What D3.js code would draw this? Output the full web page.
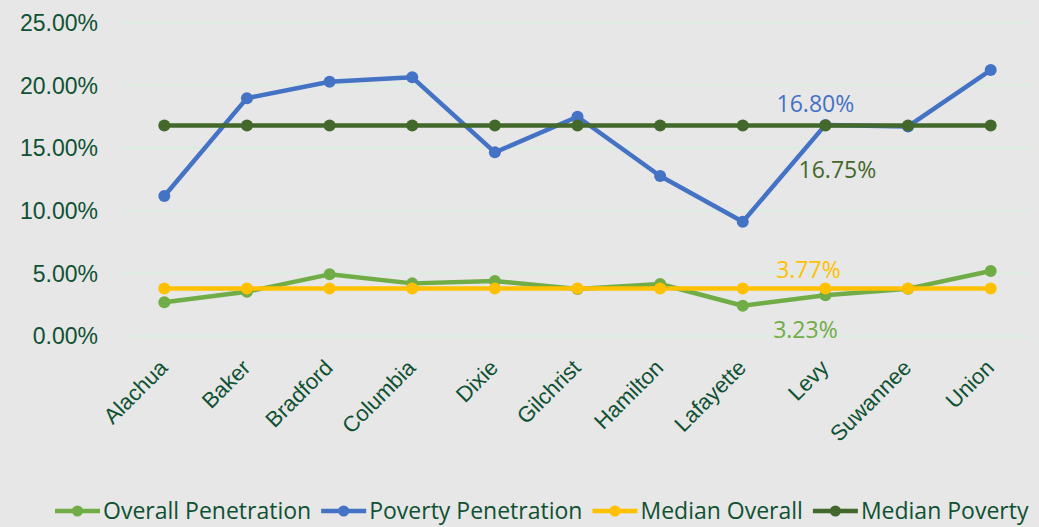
<!DOCTYPE html>
<html>
<head>
<meta charset="utf-8">
<script src="https://cdn.jsdelivr.net/npm/d3@7"></script>
<style>
  body { margin: 0; background: #e7e7e7; }
  svg { display: block; font-family: "Open Sans", sans-serif; }
</style>
</head>
<body>
<script>
var w = 1039;
var h = 527;

var counties = ["Alachua", "Baker", "Bradford", "Columbia", "Dixie", "Gilchrist",
                "Hamilton", "Lafayette", "Levy", "Suwannee", "Union"];
var overallPenetration = [2.66, 3.51, 4.89, 4.17, 4.36, 3.72, 4.12, 2.39, 3.23, 3.75, 5.16];
var povertyPenetration = [11.13, 18.93, 20.24, 20.59, 14.61, 17.45, 12.73, 9.08, 16.80, 16.68, 21.17];
var medianOverall = [3.77, 3.77, 3.77, 3.77, 3.77, 3.77, 3.77, 3.77, 3.77, 3.77, 3.77];
var medianPoverty = [16.75, 16.75, 16.75, 16.75, 16.75, 16.75, 16.75, 16.75, 16.75, 16.75, 16.75];
var yTicks = [0, 5, 10, 15, 20, 25];

// series in draw order (later ones sit on top)
var series = [
  { name: "Overall Penetration", values: overallPenetration, color: "#70ad47" },
  { name: "Poverty Penetration", values: povertyPenetration, color: "#4472c4" },
  { name: "Median Overall", values: medianOverall, color: "#ffc000" },
  { name: "Median Poverty", values: medianPoverty, color: "#43682b" }
];

var textColor = "#0f5132";

var xScale = d3.scalePoint()
    .domain(counties)
    .range([123, 1032])
    .padding(0.5);

var yScale = d3.scaleLinear()
    .domain([0, 25])
    .range([335.7, 22]);

var svg = d3.select("body")
    .append("svg")
    .attr("width", w)
    .attr("height", h);

svg.append("rect")
    .attr("width", w)
    .attr("height", h)
    .attr("fill", "#e7e7e7");

// gridlines + y labels
var yAxis = d3.axisLeft(yScale)
    .tickValues(yTicks)
    .tickSize(-(1032 - 123))
    .tickFormat(function (d) { return d.toFixed(2) + "%"; });

var gy = svg.append("g")
    .attr("transform", "translate(123,0)")
    .call(yAxis);
gy.select(".domain").remove();
gy.selectAll(".tick line").attr("stroke", "#d5f0dc").attr("stroke-width", 1.3);
gy.selectAll(".tick text")
    .attr("x", -25)
    .attr("dy", "0.36em")
    .attr("fill", textColor)
    .style("font-size", "23px");

// x labels
var xAxis = d3.axisBottom(xScale).tickSize(0);
var gx = svg.append("g")
    .attr("transform", "translate(0,336)")
    .call(xAxis);
gx.select(".domain").remove();
gx.selectAll(".tick text")
    .attr("fill", textColor)
    .style("font-size", "22px")
    .style("text-anchor", "end")
    .attr("dx", 0)
    .attr("dy", 0)
    .attr("transform", "translate(2,31) rotate(-45)");

// lines
var line = d3.line()
    .x(function (d, i) { return xScale(counties[i]); })
    .y(function (d) { return yScale(d); });

series.forEach(function (s) {
  var g = svg.append("g");
  g.append("path")
      .datum(s.values)
      .attr("d", line)
      .attr("fill", "none")
      .attr("stroke", s.color)
      .attr("stroke-width", 4.5)
      .attr("stroke-linejoin", "round");
  g.selectAll("circle")
      .data(s.values)
      .enter()
      .append("circle")
      .attr("cx", function (d, i) { return xScale(counties[i]); })
      .attr("cy", function (d) { return yScale(d); })
      .attr("r", 6)
      .attr("fill", s.color);
});

// data labels at Levy
var levy = counties.indexOf("Levy");
var labels = [
  { v: povertyPenetration[levy], color: "#4472c4", dx: -10, dy: -13 },
  { v: medianPoverty[levy], color: "#43682b", dx: 12, dy: 52 },
  { v: medianOverall[levy], color: "#ffc000", dx: -17, dy: -10 },
  { v: overallPenetration[levy], color: "#70ad47", dx: -20, dy: 43 }
];
svg.selectAll("text.dlabel")
    .data(labels)
    .enter()
    .append("text")
    .attr("class", "dlabel")
    .attr("x", function (d) { return xScale("Levy") + d.dx; })
    .attr("y", function (d) { return yScale(d.v) + d.dy; })
    .attr("text-anchor", "middle")
    .attr("fill", function (d) { return d.color; })
    .style("font-size", "23px")
    .text(function (d) { return d.v.toFixed(2) + "%"; });

// legend
var legend = svg.append("g").attr("transform", "translate(0,511)");
var lx = 55;
series.forEach(function (s) {
  var item = legend.append("g");
  item.append("line")
      .attr("x1", lx).attr("x2", lx + 45)
      .attr("y1", 0).attr("y2", 0)
      .attr("stroke", s.color)
      .attr("stroke-width", 4.5);
  item.append("circle")
      .attr("cx", lx + 22.5).attr("cy", 0).attr("r", 5.5)
      .attr("fill", s.color);
  var t = item.append("text")
      .attr("x", lx + 48)
      .attr("y", 8)
      .attr("fill", textColor)
      .style("font-size", "23px")
      .text(s.name);
  lx += 48 + t.node().getComputedTextLength() + 10;
});
</script>
</body>
</html>
